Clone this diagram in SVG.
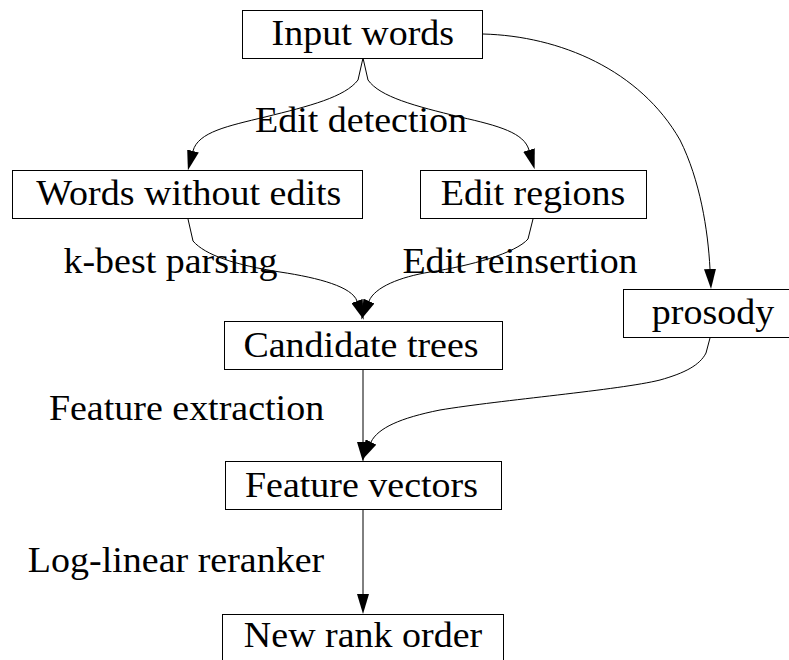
<svg xmlns="http://www.w3.org/2000/svg" width="789" height="660" viewBox="0 0 789 660">
<defs>
<style>
.box{fill:#fff;stroke:#000;stroke-width:1}
.lbl{font-family:"Liberation Serif","Times New Roman",serif;font-size:38px;fill:#000;text-anchor:middle}
.edge{fill:none;stroke:#000;stroke-width:1}
</style>
<marker id="arr" markerUnits="userSpaceOnUse" viewBox="0 0 20 12" markerWidth="20" markerHeight="12" refX="0" refY="6" orient="auto">
<path d="M0,0 L20,6 L0,12 z" fill="#000"/>
</marker>
</defs>
<rect width="789" height="660" fill="#fff"/>
<g id="edges">
<path class="edge" marker-end="url(#arr)" d="M363,58 L358,80 C345,97 310,106 265,117 C228,126 198,132 193,151"/>
<path class="edge" marker-end="url(#arr)" d="M363,58 L368,80 C380,97 415,106 460,117 C500,126 524,133 529,150"/>
<path class="edge" marker-end="url(#arr)" d="M483,34 C560,36 640,70 680,140 C700,180 708,230 710,269"/>
<path class="edge" marker-end="url(#arr)" d="M188,219 L193,241 C205,255 235,265 280,272 C320,278 352,287 357,301"/>
<path class="edge" marker-end="url(#arr)" d="M533,219 L528,239 C516,253 470,266 430,272 C400,277 375,287 369,301"/>
<path class="edge" marker-end="url(#arr)" d="M363,370 L363,442"/>
<path class="edge" marker-end="url(#arr)" d="M710,338 L706,353 C700,365 685,373 660,380 C620,390 500,400 440,410 C400,418 378,428 371,442"/>
<path class="edge" marker-end="url(#arr)" d="M363,510 L363,594"/>
<text class="lbl" transform="translate(361,132) scale(1 0.94)">Edit detection</text>
<text class="lbl" transform="translate(170.5,273) scale(1 0.94)">k-best parsing</text>
<text class="lbl" transform="translate(520,273) scale(1 0.94)">Edit reinsertion</text>
<text class="lbl" transform="translate(186.5,420) scale(1 0.94)">Feature extraction</text>
<text class="lbl" transform="translate(176,572) scale(1 0.94)">Log-linear reranker</text>
</g>
<g id="input_words">
<rect class="box" x="242.5" y="10.5" width="240" height="48"/>
<text class="lbl" transform="translate(362.8,45) scale(1 0.94)">Input words</text>
</g>
<g id="words_without_edits">
<rect class="box" x="12.5" y="170.5" width="350" height="48"/>
<text class="lbl" transform="translate(188.8,205) scale(1 0.94)">Words without edits</text>
</g>
<g id="edit_regions">
<rect class="box" x="420.5" y="170.5" width="226" height="48"/>
<text class="lbl" transform="translate(533,205) scale(1 0.94)">Edit regions</text>
</g>
<g id="prosody">
<rect class="box" x="623.5" y="289.5" width="180" height="48"/>
<text class="lbl" transform="translate(713,324) scale(1 0.94)">prosody</text>
</g>
<g id="candidate_trees">
<rect class="box" x="224.5" y="321.5" width="278" height="48"/>
<text class="lbl" transform="translate(361,357) scale(1 0.94)">Candidate trees</text>
</g>
<g id="feature_vectors">
<rect class="box" x="225.5" y="461.5" width="276" height="48"/>
<text class="lbl" transform="translate(361.5,497) scale(1 0.94)">Feature vectors</text>
</g>
<g id="new_rank_order">
<rect class="box" x="222.5" y="614.5" width="281" height="60"/>
<text class="lbl" transform="translate(363,647) scale(1 0.94)">New rank order</text>
</g>
</svg>
